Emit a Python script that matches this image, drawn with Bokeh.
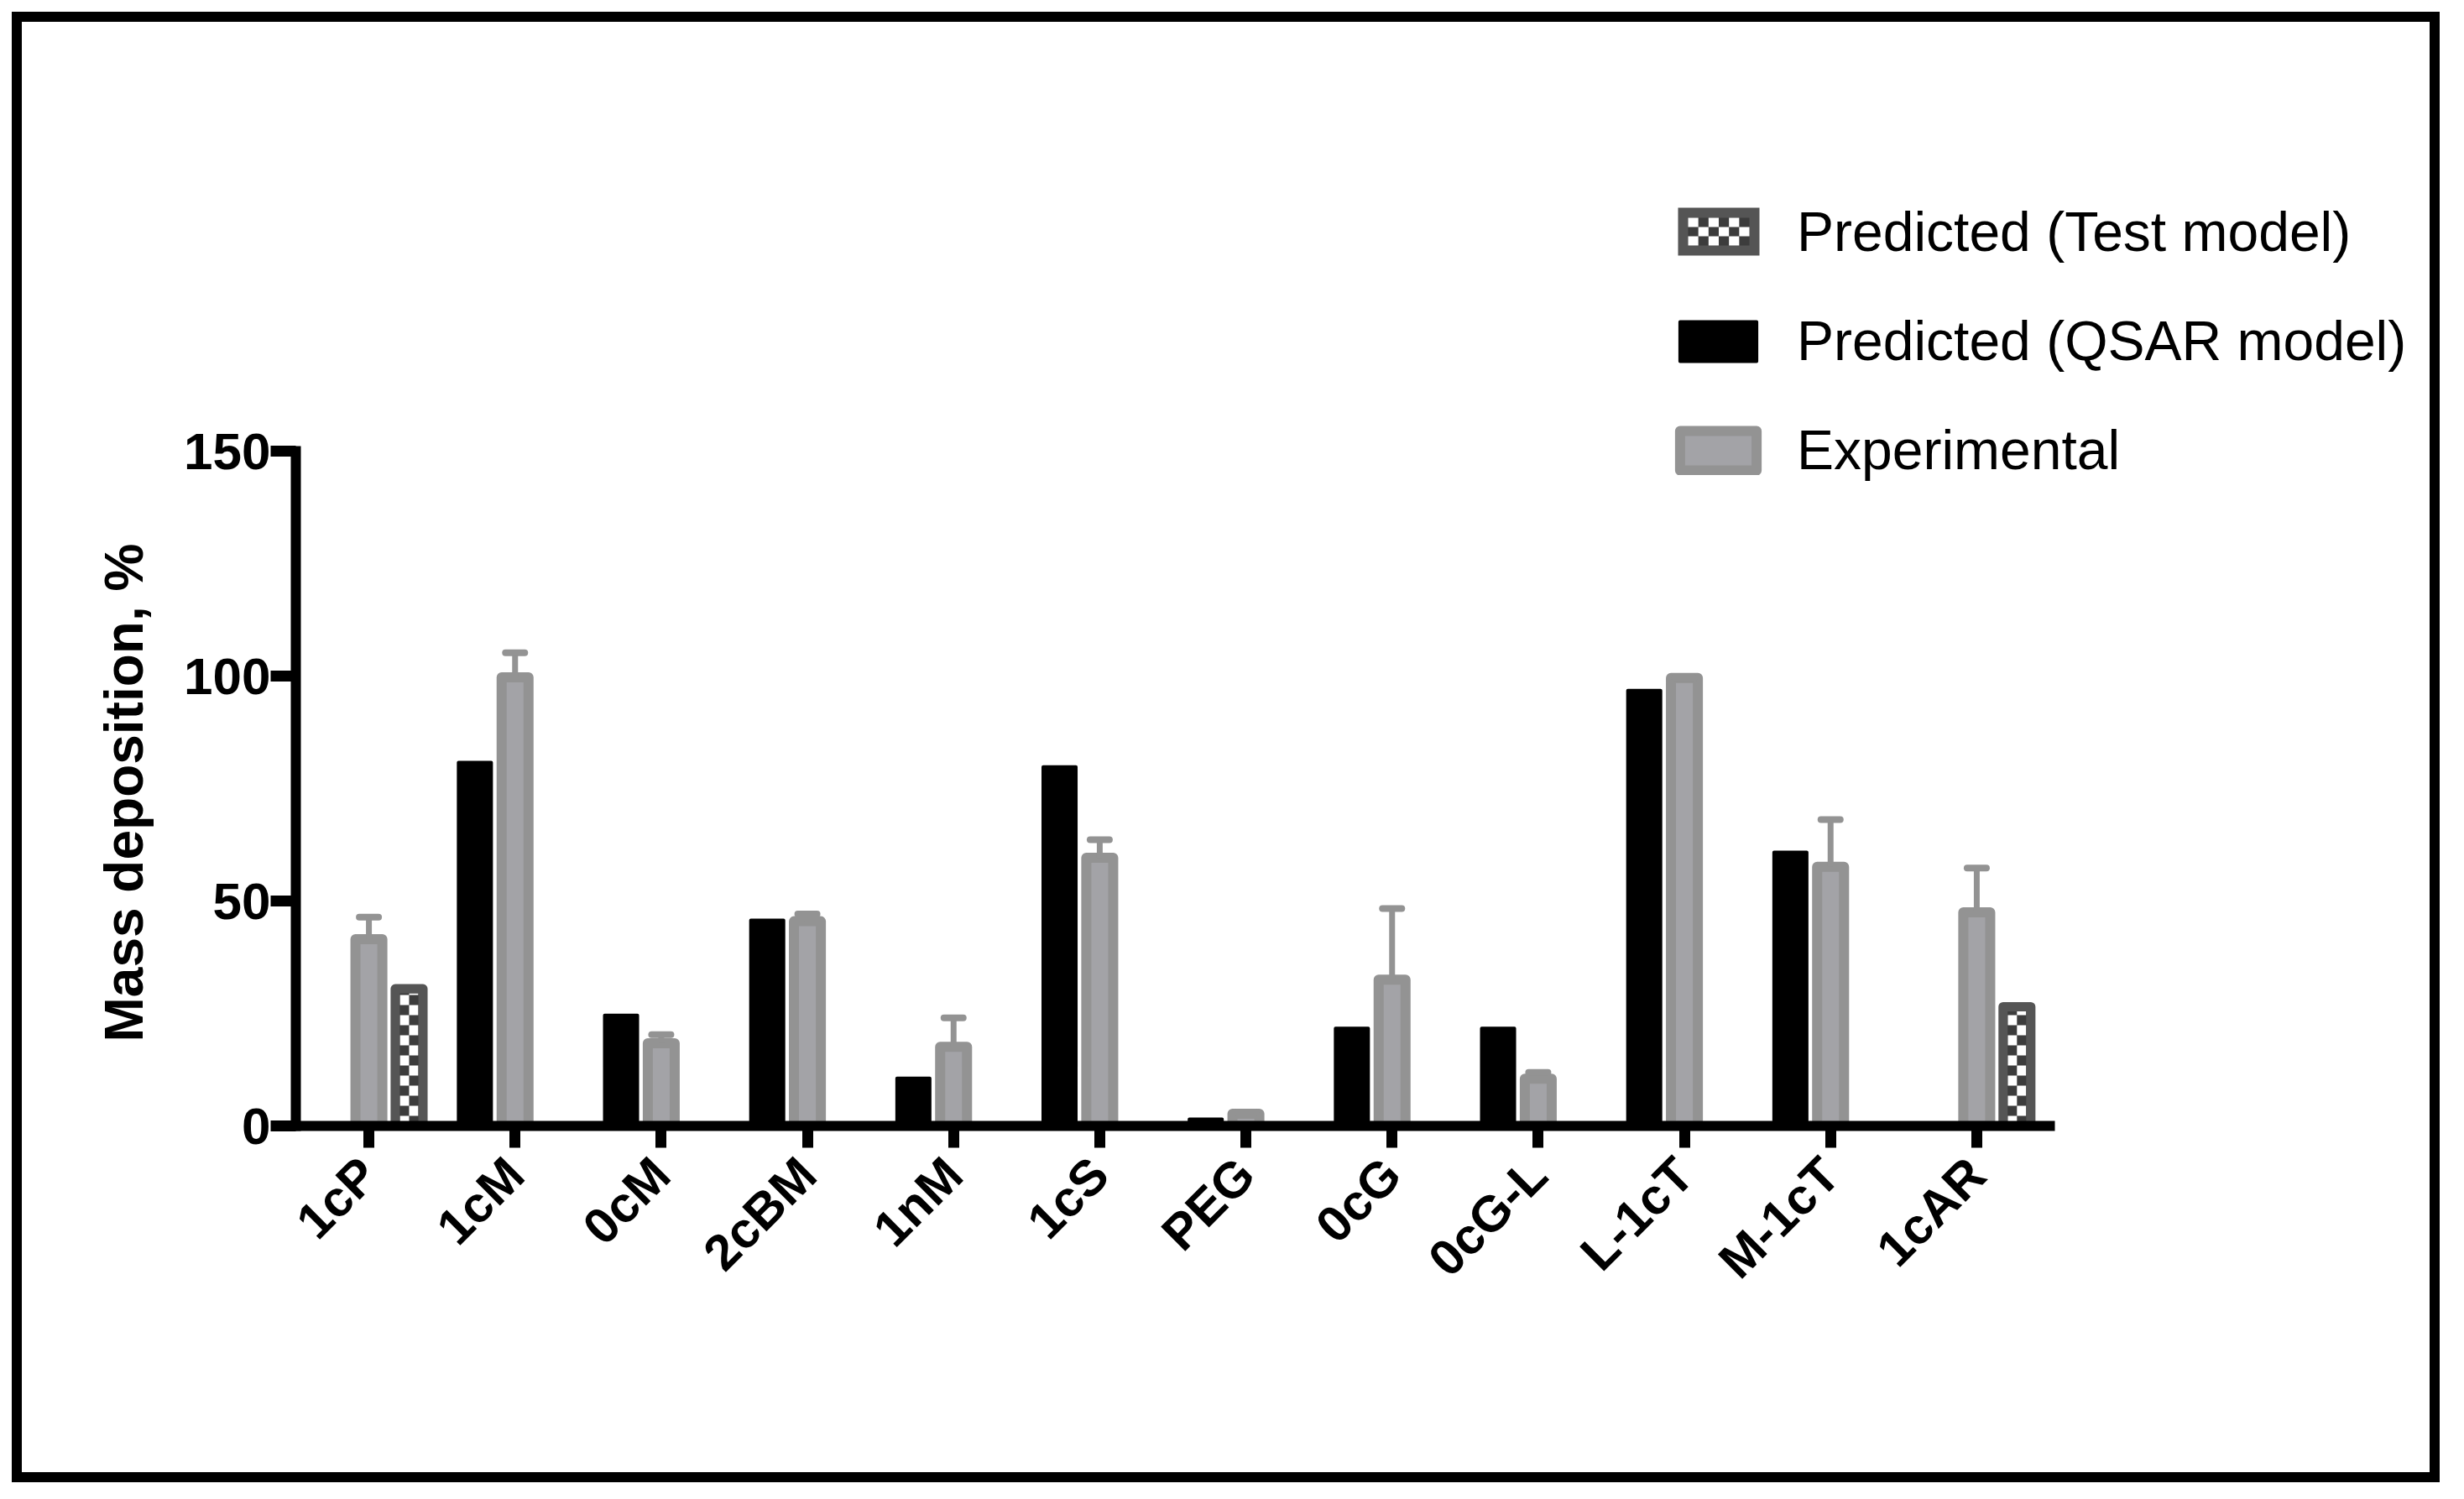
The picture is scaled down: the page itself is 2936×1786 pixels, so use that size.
from math import pi
from bokeh.plotting import figure
from bokeh.models import (ColumnDataSource, Range1d, Whisker, TeeHead, Title,
                          Legend, LegendItem, FixedTicker)
from bokeh.layouts import column
from bokeh.embed import file_html
from bokeh.resources import INLINE

# ---------------- data ----------------
categories = ["1cP", "1cM", "0cM", "2cBM", "1nM", "1cS", "PEG", "0cG", "0cG-L",
              "L-1cT", "M-1cT", "1cAR"]
experimental = [41.5, 99.7, 18.4, 45.5, 17.6, 59.6, 2.7, 32.5, 10.5, 99.6, 57.6, 47.5]
experimental_err = [4.9, 5.5, 1.9, 1.6, 6.4, 4.0, 0.3, 15.8, 1.4, 0.0, 10.5, 9.8]
qsar_pred = [None, 80.8, 24.6, 45.7, 10.6, 79.8, 1.5, 21.7, 21.7, 96.8, 60.8, None]
test_pred = [30.5, None, None, None, None, None, None, None, None, None, None, 26.5]
y_ticks = [0, 50, 100, 150]

FONT = "Liberation Sans"
GREY_RIM = "#939393"
GREY_FILL = "#a3a3a7"
CHK_DARK = "#3c3c3c"
CHK_RIM = "#555555"

# ---------------- layout constants (pixels) ----------------
W, H = 2869, 1728
FRAME_L, FRAME_B = 326, 1315          # position of the axes origin
AX_W, AX_H = 2090, 804                # length of the x axis / y axis
FRAME_R, FRAME_T = 2860, 150          # enlarged frame so that the legend fits
N = len(categories)
px_x = AX_W / N                       # pixels per category
px_y = AX_H / 150.0                   # pixels per unit
x_end = (FRAME_R - FRAME_L) / px_x
y_end = (FRAME_B - FRAME_T) / px_y

off = 0.275
centers = [i + 0.5 for i in range(N)]

exp_src = ColumnDataSource(dict(
    x=centers, value=experimental,
    upper=[v + e for v, e in zip(experimental, experimental_err)]))
qsar_src = ColumnDataSource(dict(
    x=[c - off for c, v in zip(centers, qsar_pred) if v is not None],
    value=[v for v in qsar_pred if v is not None]))
test_x = [c + off for c, v in zip(centers, test_pred) if v is not None]
test_v = [v for v in test_pred if v is not None]
test_src = ColumnDataSource(dict(x=test_x, value=test_v))

# checkerboard cells inside the test-model bars
rim_test = 11
cell_w = rim_test / px_x              # 11 px wide cells
cell_h = 12 / px_y                    # 12 px tall cells
inner_top_off = (rim_test / 2) / px_y
cl, cr, cb, ct = [], [], [], []
for xc, v in zip(test_x, test_v):
    top_lim = v - inner_top_off
    k = 0
    while k * cell_h < top_lim:
        col = k % 2
        left = xc - cell_w + col * cell_w
        cl.append(left)
        cr.append(left + cell_w)
        cb.append(k * cell_h)
        ct.append(min((k + 1) * cell_h, top_lim))
        k += 1
cells_src = ColumnDataSource(dict(left=cl, right=cr, bottom=cb, top=ct))

p = figure(x_range=Range1d(0, x_end), y_range=Range1d(0, y_end),
           width=W, height=H, output_backend="svg", toolbar_location=None,
           min_border_left=FRAME_L, min_border_right=W - FRAME_R,
           min_border_top=FRAME_T, min_border_bottom=H - FRAME_B)
p.outline_line_color = None
p.xgrid.visible = False
p.ygrid.visible = False

r_qsar = p.vbar(x="x", top="value", bottom=0, width=0.224,
                fill_color="black", line_color="black", line_width=4, line_join="round",
                source=qsar_src)
r_exp = p.vbar(x="x", top="value", bottom=0, width=0.184,
               fill_color=GREY_FILL, line_color=GREY_RIM, line_width=12, line_join="round",
               source=exp_src)

# test model bars: dark fill, white checker cells, rim on top
p.vbar(x="x", top="value", bottom=0, width=0.19, fill_color=CHK_DARK,
       line_color=None, source=test_src)
p.quad(left="left", right="right", bottom="bottom", top="top", fill_color="white",
       line_color=None, source=cells_src)
p.vbar(x="x", top="value", bottom=0, width=0.19, fill_color=None,
       line_color=CHK_RIM, line_width=rim_test, line_join="round", source=test_src)
# invisible twin used only as the legend entry (its swatch is drawn below)
r_test_leg = p.vbar(x="x", top="value", bottom=0, width=0.19, fill_alpha=0,
                    line_alpha=0, source=test_src)

whisk = Whisker(source=exp_src, base="x", upper="upper", lower="value",
                dimension="height", line_color=GREY_RIM, line_width=7,
                upper_head=TeeHead(size=23, line_color=GREY_RIM, line_width=8,
                                   line_cap="round"),
                lower_head=None, level="glyph")
p.add_layout(whisk)

# ---- checkered legend swatch (pixel offsets from the axes origin) ----
SW_L, SW_R, SW_B, SW_T = 1647, 1744, 1037, 1094
SW_RIM = 12
SW_COLS, SW_ROWS = 6, 3
p.quad(left=[SW_L / px_x], right=[SW_R / px_x], bottom=[SW_B / px_y],
       top=[SW_T / px_y], fill_color=CHK_RIM, line_color=None)
p.quad(left=[(SW_L + SW_RIM) / px_x], right=[(SW_R - SW_RIM) / px_x],
       bottom=[(SW_B + SW_RIM) / px_y], top=[(SW_T - SW_RIM) / px_y],
       fill_color=CHK_DARK, line_color=None)
cw = (SW_R - SW_L - 2 * SW_RIM) / SW_COLS
ch = (SW_T - SW_B - 2 * SW_RIM) / SW_ROWS
sl, sr, sb, st = [], [], [], []
for r in range(SW_ROWS):
    for c in range(SW_COLS):
        if (r + c) % 2 == 0:
            x0 = SW_L + SW_RIM + c * cw
            y0 = SW_T - SW_RIM - (r + 1) * ch
            sl.append(x0 / px_x)
            sr.append((x0 + cw) / px_x)
            sb.append(y0 / px_y)
            st.append((y0 + ch) / px_y)
p.quad(left=sl, right=sr, bottom=sb, top=st, fill_color="white", line_color=None)

# axes
for ax in (p.xaxis[0], p.yaxis[0]):
    ax.axis_line_width = 12
    ax.axis_line_color = "black"
    ax.axis_line_cap = "square"
    ax.major_tick_line_width = 13
    ax.major_tick_line_color = "black"
    ax.major_tick_in = 0
    ax.minor_tick_line_color = None
    ax.major_label_text_font = FONT
    ax.major_label_text_font_style = "bold"
    ax.major_label_text_font_size = "60px"
    ax.major_label_text_color = "black"

p.xaxis.ticker = FixedTicker(ticks=centers)
p.xaxis.major_label_overrides = {c: name for c, name in zip(centers, categories)}
p.xaxis.bounds = (0, N)
p.xaxis.major_tick_out = 26
p.xaxis.major_label_orientation = pi / 4
p.xaxis.major_label_standoff = 22

p.yaxis.ticker = FixedTicker(ticks=y_ticks)
p.yaxis.bounds = (0, 150)
p.yaxis.major_tick_out = 30
p.yaxis.major_label_standoff = 0
p.yaxis.major_label_text_font_size = "62px"

# y-axis title, starting near the bottom of the (bounded) axis line
ytitle = Title(text="Mass deposition, %", align="left", offset=100, standoff=66,
               text_font=FONT, text_font_style="bold", text_font_size="64px",
               text_color="black")
p.add_layout(ytitle, "left")

legend = Legend(items=[
    LegendItem(label="Predicted (Test model)", renderers=[r_test_leg]),
    LegendItem(label="Predicted (QSAR model)", renderers=[r_qsar]),
    LegendItem(label="Experimental", renderers=[r_exp]),
], location=(1638, 767), orientation="vertical",
    glyph_width=114, glyph_height=59, label_height=59, spacing=54,
    label_standoff=37, padding=0, margin=0,
    border_line_color=None, background_fill_alpha=0,
    label_text_font=FONT, label_text_font_size="66px", label_text_color="black")
p.add_layout(legend)

layout = column(p, styles={"border": "12px solid black"}, margin=(14, 0, 0, 14))

open("out.html", "w").write(file_html(layout, INLINE))
